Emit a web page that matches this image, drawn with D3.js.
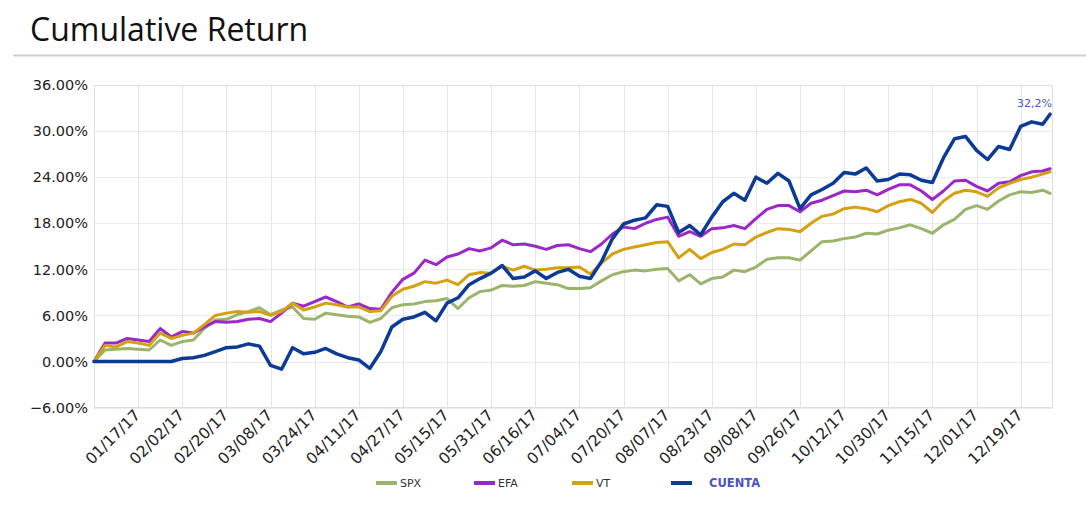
<!DOCTYPE html>
<html><head><meta charset="utf-8">
<script src="https://cdn.jsdelivr.net/npm/d3@7"></script>
<style>
body{margin:0;background:#fff;}
svg{display:block;}
</style></head><body>
<svg id="chart" width="1086" height="518"></svg>
<script>
// ---- data ----
const tickLabels = ["01/17/17","02/02/17","02/20/17","03/08/17","03/24/17","04/11/17","04/27/17",
  "05/15/17","05/31/17","06/16/17","07/04/17","07/20/17","08/07/17","08/23/17","09/08/17",
  "09/26/17","10/12/17","10/30/17","11/15/17","12/01/17","12/19/17"];
const tickIndex = [12,24,36,48,60,72,84,96,108,120,132,144,156,168,180,192,204,216,228,240,252];
// business-day index of each sample (0 = 12/30/16)
const dayIndex = [0,3,6,9,12,15,18,21,24,27,30,33,36,39,42,45,48,51,54,57,60,63,
  66,69,72,75,78,81,84,87,90,93,96,99,102,105,108,111,114,117,120,123,126,129,
  132,135,138,141,144,147,150,153,156,159,162,165,168,171,174,177,180,183,186,189,192,195,
  198,201,204,207,210,213,216,219,222,225,228,231,234,237,240,243,246,249,252,255,258,260];
const spx = [0,1.5,1.6,1.7,1.6,1.5,2.8,2.1,2.6,2.8,4.3,5.4,5.5,6.1,6.5,7.0,6.1,6.7,7.1,5.6,5.5,6.3,
  6.1,5.9,5.8,5.1,5.6,7.0,7.4,7.5,7.8,7.9,8.2,6.9,8.3,9.1,9.3,9.9,9.8,9.9,10.4,10.2,10.0,9.5,
  9.5,9.6,10.5,11.3,11.7,11.9,11.8,12.0,12.1,10.5,11.3,10.1,10.8,11.0,11.9,11.7,12.3,13.3,13.5,13.5,13.2,14.4,
  15.6,15.7,16.0,16.2,16.7,16.6,17.1,17.4,17.8,17.3,16.7,17.8,18.5,19.8,20.3,19.8,20.9,21.7,22.1,22.0,22.3,21.9];
const efa = [0,2.4,2.4,3.0,2.8,2.6,4.3,3.2,3.9,3.7,4.5,5.2,5.1,5.2,5.5,5.6,5.2,6.3,7.6,7.2,7.8,8.4,
  7.8,7.1,7.5,6.9,6.8,9.0,10.7,11.5,13.2,12.6,13.6,14.0,14.7,14.4,14.8,15.8,15.2,15.3,15.0,14.6,15.1,15.2,
  14.7,14.3,15.3,16.6,17.5,17.3,18.0,18.5,18.8,16.3,16.9,16.3,17.3,17.4,17.7,17.3,18.6,19.8,20.3,20.3,19.5,20.6,
  21.0,21.6,22.2,22.1,22.3,21.7,22.4,23.0,23.0,22.2,21.1,22.2,23.5,23.6,22.8,22.2,23.2,23.4,24.2,24.7,24.8,25.1];
const vt = [0,2.1,1.9,2.6,2.4,2.1,3.7,3.0,3.4,3.7,4.8,6.0,6.3,6.5,6.4,6.5,6.0,6.5,7.6,6.7,7.1,7.6,
  7.4,7.1,7.1,6.5,6.6,8.5,9.4,9.8,10.4,10.2,10.6,10.0,11.3,11.6,11.5,12.4,11.9,12.4,11.9,12.0,12.2,12.2,
  12.3,11.4,12.8,14.0,14.6,14.9,15.2,15.5,15.6,13.5,14.6,13.4,14.2,14.6,15.3,15.2,16.2,16.8,17.3,17.2,16.9,18.0,
  18.9,19.2,19.9,20.1,19.9,19.5,20.3,20.8,21.1,20.6,19.4,20.9,21.9,22.3,22.1,21.5,22.6,23.2,23.7,24.0,24.4,24.7];
const cuenta = [0,0,0,0,0,0,0,0,0.4,0.5,0.8,1.3,1.8,1.9,2.3,2.0,-0.5,-1.0,1.8,1.0,1.2,1.7,
  1.0,0.5,0.2,-0.9,1.3,4.5,5.5,5.8,6.4,5.3,7.6,8.3,10.0,10.8,11.5,12.5,10.8,11.0,11.8,10.8,11.6,12.0,
  11.1,10.8,13.0,16.0,17.9,18.4,18.7,20.4,20.2,16.8,17.7,16.5,18.8,20.8,21.9,21.0,24.0,23.2,24.5,23.5,19.9,21.7,
  22.4,23.2,24.6,24.4,25.2,23.5,23.7,24.4,24.3,23.6,23.3,26.5,29.0,29.3,27.5,26.3,28.0,27.6,30.6,31.2,30.9,32.2];
const yTicks = [-6,0,6,12,18,24,30,36];
const seriesNames = ["SPX","EFA","VT","CUENTA"];
const endLabel = "32,2%";

// ---- styling ----
const series = [
  {name:"SPX", values:spx, color:"#9cb36b", width:3},
  {name:"EFA", values:efa, color:"#9b27c9", width:3},
  {name:"VT", values:vt, color:"#d5a112", width:3},
  {name:"CUENTA", values:cuenta, color:"#0b3b96", width:3.5}
];
const svg = d3.select("#chart");
const x = d3.scaleLinear().domain([0, 260.8]).range([94, 1053]);
const y = d3.scaleLinear().domain([-6, 36]).range([407.6, 85]);
const font = "'DejaVu Sans', Verdana, sans-serif";

// title
svg.append("text").attr("x", 30).attr("y", 41).text("Cumulative Return")
  .attr("font-family", "'Open Sans', 'Noto Sans', sans-serif").attr("font-size", 32).attr("fill", "#111");
svg.append("line").attr("x1", 13).attr("x2", 1086).attr("y1", 55.5).attr("y2", 55.5)
  .attr("stroke", "#cfcfcf").attr("stroke-width", 2);

// grid
const g = svg.append("g");
g.selectAll(".hg").data(yTicks).enter().append("line")
  .attr("x1", x.range()[0]).attr("x2", x.range()[1])
  .attr("y1", d => Math.round(y(d)) + 0.5).attr("y2", d => Math.round(y(d)) + 0.5)
  .attr("stroke", "#ebebeb");
g.selectAll(".vg").data(tickIndex).enter().append("line")
  .attr("x1", d => Math.round(x(d)) + 0.5).attr("x2", d => Math.round(x(d)) + 0.5)
  .attr("y1", y.range()[1]).attr("y2", y.range()[0])
  .attr("stroke", "#e6e6e6");
g.append("rect").attr("x", 94.5).attr("y", 85.5).attr("width", 958).attr("height", 322)
  .attr("fill", "none").attr("stroke", "#dedede");

// y labels
g.selectAll(".yl").data(yTicks).enter().append("text")
  .attr("x", 88).attr("y", d => y(d)).attr("dy", "0.36em")
  .attr("text-anchor", "end").attr("font-family", font).attr("font-size", 14.5).attr("fill", "#222")
  .text(d => (d < 0 ? "\u2212" : "") + Math.abs(d).toFixed(2) + "%");

// x labels
g.selectAll(".xl").data(tickIndex).enter().append("text")
  .attr("transform", d => `translate(${x(d) + 3},${416}) rotate(-45)`)
  .attr("text-anchor", "end").attr("font-family", font).attr("font-size", 15.5).attr("fill", "#222")
  .text((d, i) => tickLabels[i]);

// lines
const line = d3.line().x((d, i) => x(dayIndex[i])).y(d => y(d));
series.forEach(s => {
  svg.append("path").datum(s.values).attr("d", line)
    .attr("fill", "none").attr("stroke", s.color).attr("stroke-width", s.width)
    .attr("stroke-linejoin", "round").attr("stroke-linecap", "round");
});

// end label
const lastI = dayIndex.length - 1;
svg.append("text").attr("x", x(dayIndex[lastI]) + 2).attr("y", y(cuenta[lastI]) - 7)
  .attr("text-anchor", "end").attr("font-family", font).attr("font-size", 11).attr("fill", "#4a52c4")
  .text(endLabel);

// legend
const legendX = [376, 474, 572, 671];
series.forEach((s, k) => {
  const lg = svg.append("g").attr("transform", `translate(${legendX[k]},483)`);
  lg.append("line").attr("x1", 0).attr("x2", 21).attr("y1", 0).attr("y2", 0)
    .attr("stroke", s.color).attr("stroke-width", 4);
  const isMain = s.name === "CUENTA";
  lg.append("text").attr("x", isMain ? 38 : 24).attr("y", 0).attr("dy", "0.36em")
    .attr("font-family", font).attr("font-size", isMain ? 11.5 : 11)
    .attr("font-weight", isMain ? "bold" : "normal")
    .attr("fill", isMain ? "#4a52c4" : "#333").text(seriesNames[k]);
});
</script>
</body></html>
